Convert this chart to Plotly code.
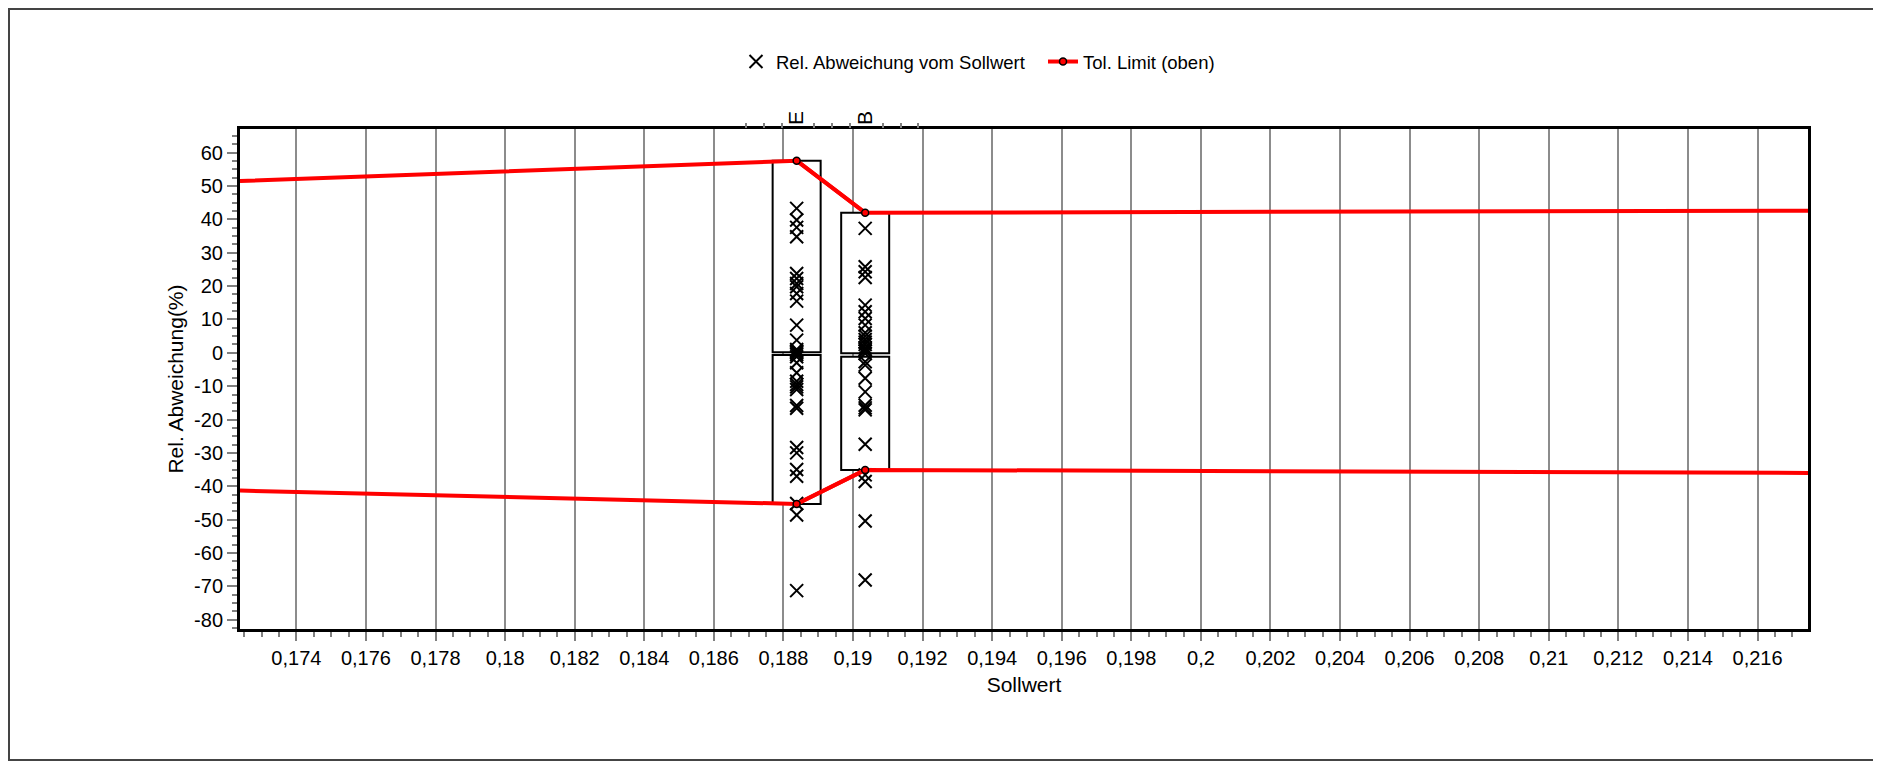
import numpy as np
import plotly.graph_objects as go

# ---------------- data ----------------
group_labels = ["E", "B"]
group_sollwert = [0.18838, 0.19035]

e_values = [43.3, 39.8, 37.6, 34.8, 23.8, 22.3, 20.8, 19.8, 17.8, 15.5, 8.3, 3.8,
            1.0, 0.5, 0.0, -0.5, -1.2, -3.0, -6.0, -8.5, -9.5, -10.2, -11.0,
            -15.8, -16.6, -28.4, -30.0, -35.0, -37.0, -45.2, -48.6, -71.3]
b_values = [37.3, 25.8, 24.3, 22.6, 14.3, 12.3, 10.3, 8.3, 6.0, 5.0, 4.0, 3.2,
            2.5, 1.5, 1.0, 0.5, -0.2, -2.7, -3.7, -7.6, -11.7, -15.7, -16.5,
            -17.1, -27.4, -36.6, -38.6, -50.4, -68.1]

upper_limit_groups = [57.6, 42.0]
lower_limit_groups = [-45.3, -35.1]
limit_edge_x = [0.17238, 0.21745]
upper_limit_edges = [51.5, 42.6]
lower_limit_edges = [-41.3, -36.0]
box_split_upper = [0.15, -0.15]
box_split_lower = [-0.66, -1.17]

x_tick_vals = [0.174, 0.176, 0.178, 0.180, 0.182, 0.184, 0.186, 0.188, 0.190, 0.192,
               0.194, 0.196, 0.198, 0.200, 0.202, 0.204, 0.206, 0.208, 0.210, 0.212,
               0.214, 0.216]
x_tick_text = ["0,174", "0,176", "0,178", "0,18", "0,182", "0,184", "0,186", "0,188",
               "0,19", "0,192", "0,194", "0,196", "0,198", "0,2", "0,202", "0,204",
               "0,206", "0,208", "0,21", "0,212", "0,214", "0,216"]
y_tick_vals = [-80, -70, -60, -50, -40, -30, -20, -10, 0, 10, 20, 30, 40, 50, 60]
y_tick_text = ["-80", "-70", "-60", "-50", "-40", "-30", "-20", "-10", "0", "10",
               "20", "30", "40", "50", "60"]
top_tick_vals = [0.18693, 0.18745, 0.18796, 0.18888, 0.18941, 0.18992,
                 0.19085, 0.19137, 0.19188]

# ---------------- styling / geometry ----------------
OFF = 8  # page body margin of the written html
W, H = 1881 - OFF, 765 - OFF
PL, PR, PT, PB = 240 - OFF, 1808 - OFF, 129 - OFF, 629 - OFF
X_RANGE = [0.17238, 0.21745]
Y_RANGE = [-82.8, 67.1]
BOX_HALF = 0.00069
FONT = "Liberation Sans, Arial, sans-serif"
TICK_GRAY = "#808080"
RED = "#ff0000"
LINE_W = 4


def px_to_paper_x(px):
    return (px - OFF - PL) / (PR - PL)


def px_to_paper_y(py):
    return (PB - (py - OFF)) / (PB - PT)


fig = go.Figure()

# scatter of deviations
xs = [group_sollwert[0]] * len(e_values) + [group_sollwert[1]] * len(b_values)
ys = e_values + b_values
fig.add_trace(go.Scatter(
    x=xs, y=ys, mode="markers", name="Rel. Abweichung vom Sollwert",
    legendwidth=262,
    marker=dict(symbol="x-thin", size=13, color="black",
                line=dict(width=2, color="black")),
))

# upper limit: full line to edges
fig.add_trace(go.Scatter(
    x=[limit_edge_x[0]] + group_sollwert + [limit_edge_x[1]],
    y=[upper_limit_edges[0]] + upper_limit_groups + [upper_limit_edges[1]],
    mode="lines", line=dict(color=RED, width=LINE_W), showlegend=False,
    hoverinfo="skip",
))
fig.add_trace(go.Scatter(
    x=group_sollwert, y=upper_limit_groups, mode="lines+markers",
    name="Tol. Limit (oben)",
    line=dict(color=RED, width=LINE_W),
    marker=dict(symbol="circle", size=7, color=RED,
                line=dict(width=1.5, color="black")),
))
# lower limit
fig.add_trace(go.Scatter(
    x=[limit_edge_x[0]] + group_sollwert + [limit_edge_x[1]],
    y=[lower_limit_edges[0]] + lower_limit_groups + [lower_limit_edges[1]],
    mode="lines", line=dict(color=RED, width=LINE_W), showlegend=False,
    hoverinfo="skip",
))
fig.add_trace(go.Scatter(
    x=group_sollwert, y=lower_limit_groups, mode="lines+markers",
    line=dict(color=RED, width=LINE_W), showlegend=False,
    marker=dict(symbol="circle", size=7, color=RED,
                line=dict(width=1.5, color="black")),
))
# invisible trace to anchor the top axis
fig.add_trace(go.Scatter(
    x=group_sollwert, y=upper_limit_groups, mode="markers", xaxis="x2",
    marker=dict(opacity=0), showlegend=False, hoverinfo="skip",
))

# boxes (derived from limits)
shapes = []
for i, gx in enumerate(group_sollwert):
    shapes.append(dict(type="rect", xref="x", yref="y", layer="between",
                       x0=gx - BOX_HALF, x1=gx + BOX_HALF,
                       y0=box_split_upper[i], y1=upper_limit_groups[i],
                       line=dict(color="black", width=2), fillcolor="white"))
    shapes.append(dict(type="rect", xref="x", yref="y", layer="between",
                       x0=gx - BOX_HALF, x1=gx + BOX_HALF,
                       y0=lower_limit_groups[i], y1=box_split_lower[i],
                       line=dict(color="black", width=2), fillcolor="white"))
# outer frame
shapes.append(dict(type="rect", xref="paper", yref="paper", layer="above",
                   x0=px_to_paper_x(9), x1=px_to_paper_x(1879),
                   y0=px_to_paper_y(760), y1=px_to_paper_y(9),
                   line=dict(color="#444444", width=2)))

x_minor = [v for v in np.round(np.arange(0.1725, 0.2175, 0.0005), 5)
           if not np.any(np.isclose(v, x_tick_vals))]
y_minor = [v for v in np.arange(-82.5, 67.5, 2.5) if v % 10 != 0]

fig.update_layout(
    width=W, height=H,
    margin=dict(l=PL, r=W - PR, t=PT, b=H - PB, autoexpand=False),
    paper_bgcolor="white", plot_bgcolor="white",
    font=dict(family=FONT, size=20, color="black"),
    showlegend=True,
    legend=dict(orientation="h", x=px_to_paper_x(736), y=px_to_paper_y(62),
                xanchor="left", yanchor="middle", font=dict(size=18.5),
                bgcolor="rgba(0,0,0,0)", traceorder="normal"),
    shapes=shapes,
    xaxis=dict(
        range=X_RANGE, tickmode="array", tickvals=x_tick_vals, ticktext=x_tick_text,
        ticks="outside", ticklen=9, tickwidth=2, tickcolor=TICK_GRAY,
        showgrid=True, gridcolor="#8c8c8c", gridwidth=2, zeroline=False,
        showline=True, linewidth=3, linecolor="black", mirror=True,
        minor=dict(tickmode="array", tickvals=x_minor, ticks="outside", ticklen=5,
                   tickwidth=1.5, tickcolor=TICK_GRAY, showgrid=False),
        title=dict(text="Sollwert", font=dict(size=21), standoff=10),
    ),
    xaxis2=dict(
        range=X_RANGE, overlaying="x", side="top", anchor="y",
        tickmode="array", tickvals=group_sollwert, ticktext=group_labels,
        tickangle=-90, ticks="", showgrid=False, zeroline=False, showline=False,
        tickfont=dict(size=21), ticklabelstandoff=3,
        minor=dict(tickmode="array", tickvals=top_tick_vals, ticks="outside",
                   ticklen=5, tickwidth=1.5, tickcolor=TICK_GRAY, showgrid=False),
    ),
    yaxis=dict(
        range=Y_RANGE, tickmode="array", tickvals=y_tick_vals, ticktext=y_tick_text,
        ticks="outside", ticklen=10, tickwidth=2, tickcolor=TICK_GRAY,
        showgrid=False, zeroline=False,
        showline=True, linewidth=3, linecolor="black", mirror=True,
        minor=dict(tickmode="array", tickvals=y_minor, ticks="outside", ticklen=5,
                   tickwidth=1.5, tickcolor=TICK_GRAY, showgrid=False),
        title=dict(text="Rel. Abweichung(%)", font=dict(size=21), standoff=5),
    ),
)

fig.write_html("out.html")
